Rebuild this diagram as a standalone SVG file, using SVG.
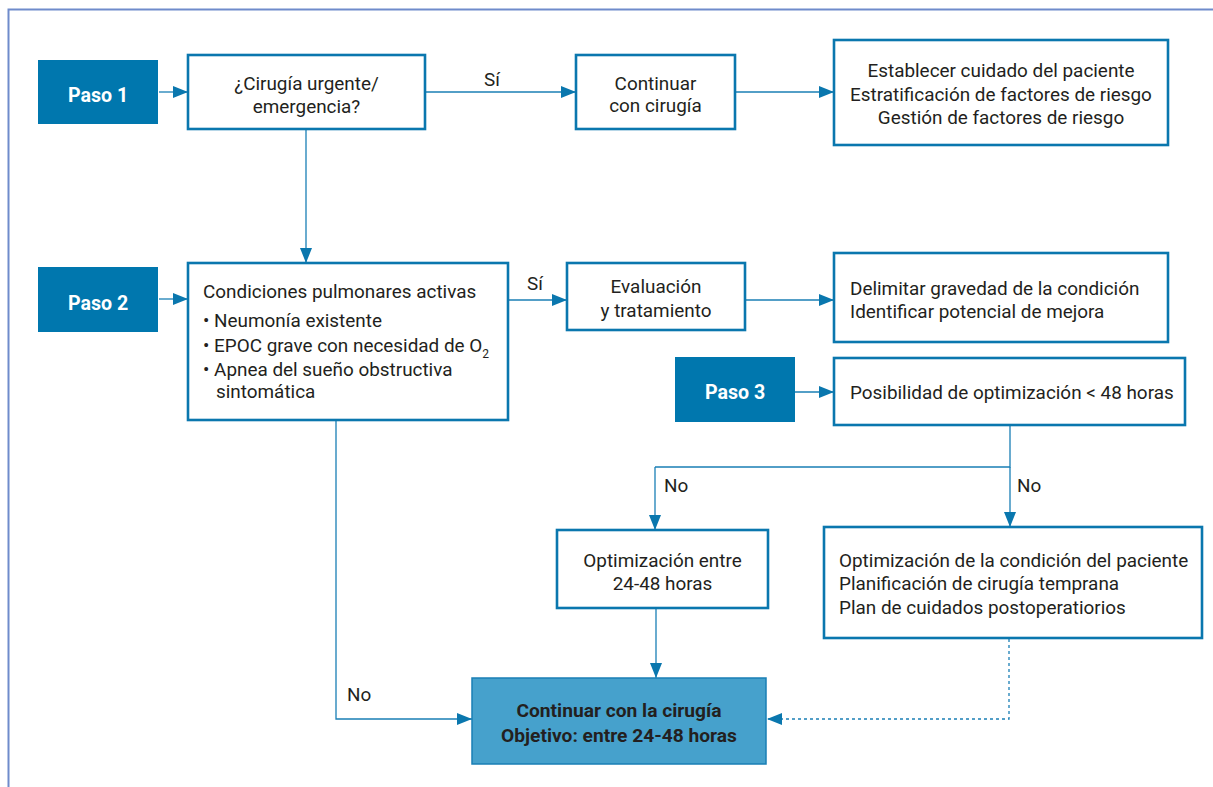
<svg xmlns="http://www.w3.org/2000/svg" width="1213" height="787" viewBox="0 0 1213 787">
<style>
.frame{fill:none;stroke:#6f8bcb;stroke-width:2}
.box{fill:#ffffff;stroke:#0a77ae;stroke-width:2.6}
.paso{fill:#0077ae}
.final{fill:#46a1cc;stroke:#1a7fb5;stroke-width:1.5}
.t{font-family:Roboto,"Liberation Sans",sans-serif;font-size:18.9px;fill:#231f20}
.c{text-anchor:middle}
.pt{font-family:Roboto,"Liberation Sans",sans-serif;font-size:19.6px;font-weight:bold;fill:#ffffff;text-anchor:middle}
.ft{font-family:Roboto,"Liberation Sans",sans-serif;font-size:19.2px;font-weight:bold;fill:#231f20;text-anchor:middle}
.sub{font-size:12px}
.ln{fill:none;stroke:#1a7fb5;stroke-width:1.3;marker-end:url(#ah)}
.nl{fill:none;stroke:#1a7fb5;stroke-width:1.3}
.dot{fill:none;stroke:#1a7fb5;stroke-width:1.3;stroke-dasharray:3 3;marker-end:url(#ah)}
</style>
<defs>
<marker id="ah" markerUnits="userSpaceOnUse" markerWidth="15" markerHeight="12" refX="15" refY="6" orient="auto">
<path d="M0,0 L15,6 L0,12 z" fill="#0a77ae"/>
</marker>
</defs>
<rect class="frame" x="8.5" y="9.5" width="1230" height="800"/>

<g id="connectors">
<line class="ln" x1="159" y1="92" x2="188" y2="92"/>
<line class="ln" x1="425" y1="92" x2="576" y2="92"/>
<line class="ln" x1="735" y1="92" x2="834" y2="92"/>
<line class="ln" x1="306" y1="129" x2="306" y2="263"/>
<line class="ln" x1="159" y1="299" x2="188" y2="299"/>
<line class="ln" x1="508" y1="300" x2="567" y2="300"/>
<line class="ln" x1="745" y1="300" x2="834" y2="300"/>
<line class="ln" x1="795" y1="392" x2="834" y2="392"/>
<polyline class="nl" points="1010,425 1010,467 655,467"/>
<line class="ln" x1="655" y1="467" x2="655" y2="530"/>
<line class="ln" x1="1010" y1="467" x2="1010" y2="527"/>
<line class="ln" x1="656" y1="608" x2="656" y2="678"/>
<polyline class="ln" points="336,420 336,719 472,719"/>
<polyline class="dot" points="1009,639 1009,719 767,719"/>
<text class="t" x="484" y="86">Sí</text>
<text class="t" x="527" y="290">Sí</text>
<text class="t" x="664" y="492">No</text>
<text class="t" x="1017" y="492">No</text>
<text class="t" x="347" y="701">No</text>
</g>

<g id="paso1">
<rect class="paso" x="38" y="60" width="120" height="64"/>
<text class="pt" x="98" y="102">Paso 1</text>
</g>

<g id="cirugia-urgente">
<rect class="box" x="188" y="55" width="237" height="74"/>
<text class="t c" x="306.5" y="90">¿Cirugía urgente/</text>
<text class="t c" x="306.5" y="113">emergencia?</text>
</g>

<g id="continuar">
<rect class="box" x="576" y="55" width="159" height="74"/>
<text class="t c" x="655.5" y="90">Continuar</text>
<text class="t c" x="655.5" y="112">con cirugía</text>
</g>

<g id="establecer">
<rect class="box" x="834" y="40" width="334" height="105"/>
<text class="t c" x="1001" y="77">Establecer cuidado del paciente</text>
<text class="t c" x="1001" y="101">Estratificación de factores de riesgo</text>
<text class="t c" x="1001" y="124">Gestión de factores de riesgo</text>
</g>

<g id="paso2">
<rect class="paso" x="38" y="267" width="120" height="65"/>
<text class="pt" x="98" y="310">Paso 2</text>
</g>

<g id="condiciones">
<rect class="box" x="188" y="263" width="320" height="157"/>
<text class="t" x="203" y="298">Condiciones pulmonares activas</text>
<text class="t" x="203" y="327">• Neumonía existente</text>
<text class="t" x="203" y="352">• EPOC grave con necesidad de O<tspan class="sub" dy="6">2</tspan></text>
<text class="t" x="203" y="376">• Apnea del sueño obstructiva</text>
<text class="t" x="216" y="398">sintomática</text>
</g>

<g id="evaluacion">
<rect class="box" x="567" y="263" width="178" height="67"/>
<text class="t c" x="656" y="293">Evaluación</text>
<text class="t c" x="656" y="317">y tratamiento</text>
</g>

<g id="delimitar">
<rect class="box" x="834" y="253" width="334" height="89"/>
<text class="t" x="850" y="295">Delimitar gravedad de la condición</text>
<text class="t" x="850" y="318">Identificar potencial de mejora</text>
</g>

<g id="paso3">
<rect class="paso" x="675" y="357" width="120" height="65"/>
<text class="pt" x="735" y="399">Paso 3</text>
</g>

<g id="posibilidad">
<rect class="box" x="834" y="358" width="351" height="67"/>
<text class="t" x="850" y="399">Posibilidad de optimización &lt; 48 horas</text>
</g>

<g id="optimizacion-24-48">
<rect class="box" x="557" y="530" width="211" height="78"/>
<text class="t c" x="662.5" y="567">Optimización entre</text>
<text class="t c" x="662.5" y="590">24-48 horas</text>
</g>

<g id="optimizacion-condicion">
<rect class="box" x="824" y="527" width="378" height="111"/>
<text class="t" x="839" y="567">Optimización de la condición del paciente</text>
<text class="t" x="839" y="590">Planificación de cirugía temprana</text>
<text class="t" x="839" y="614">Plan de cuidados postoperatiorios</text>
</g>

<g id="continuar-cirugia">
<rect class="final" x="472" y="678" width="294" height="86"/>
<text class="ft" x="619" y="717">Continuar con la cirugía</text>
<text class="ft" x="619" y="742">Objetivo: entre 24-48 horas</text>
</g>
</svg>
